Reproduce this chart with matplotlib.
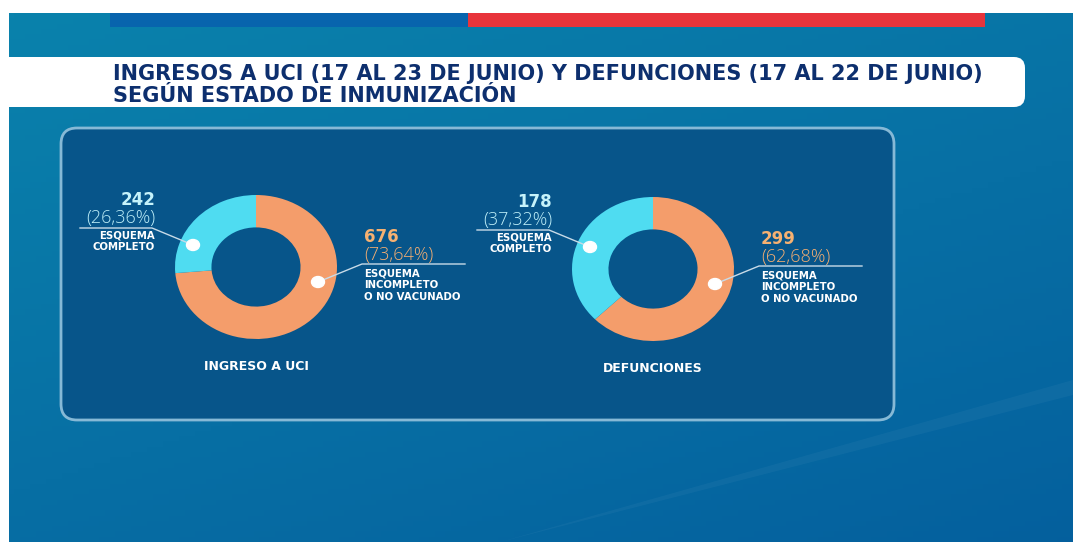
import numpy as np
import matplotlib.pyplot as plt
from matplotlib.patches import FancyBboxPatch, Rectangle, Ellipse

# data
charts = ["INGRESO A UCI", "DEFUNCIONES"]
completo = [242, 178]
incompleto = [676, 299]
label_completo = ["ESQUEMA", "COMPLETO"]
label_incompleto = ["ESQUEMA", "INCOMPLETO", "O NO VACUNADO"]
title_lines = ["INGRESOS A UCI (17 AL 23 DE JUNIO) Y DEFUNCIONES (17 AL 22 DE JUNIO)",
               "SEGÚN ESTADO DE INMUNIZACIÓN"]

W, H = 1073, 542
ORANGE = "#f49d6b"
CYAN = "#4fdcf1"
NAVY = "#0d2f6e"
PANEL = "#07558a"

fig = plt.figure(figsize=(W / 100, H / 100), dpi=100)
ax = fig.add_axes([0, 0, 1, 1])

def Y(y):  # image row -> data y
    return H - y

# background gradient
gx, gy = np.meshgrid(np.linspace(0, 1, 200), np.linspace(0, 1, 100))
t = np.clip(0.55 * gy + 0.35 * gx, 0, 1)
c0 = np.array([0x0a, 0x82, 0xac]) / 255
c1 = np.array([0x04, 0x5c, 0x9c]) / 255
img = c0[None, None, :] * (1 - t[..., None]) + c1[None, None, :] * t[..., None]
ax.imshow(img, extent=[9, W, 0, Y(13)], origin="upper", aspect="auto", zorder=0)

# faint decorative strip at bottom right
ax.fill([500, W, W, 500], [Y(542), Y(380), Y(395), Y(542)], color="white", alpha=0.04, lw=0, zorder=1)

# top flag bar
ax.add_patch(Rectangle((110, Y(27)), 358, 14, color="#0864ad", lw=0, zorder=2))
ax.add_patch(Rectangle((468, Y(27)), 517, 14, color="#e8343b", lw=0, zorder=2))

# title box
ax.add_patch(FancyBboxPatch((-20, Y(107)), 1045, 50, boxstyle="round,pad=0,rounding_size=11",
                            fc="white", ec="none", zorder=2))
for i, line in enumerate(title_lines):
    ax.text(113, Y(74 + i * 22), line, fontsize=15, fontweight="bold",
            color=NAVY, va="center", ha="left", zorder=4)

# panel
ax.add_patch(FancyBboxPatch((61, Y(420)), 833, 292, boxstyle="round,pad=0,rounding_size=16",
                            fc=PANEL, ec="#86b9d6", lw=2, zorder=2))

ax.set_xlim(0, W)
ax.set_ylim(0, H)
ax.axis("off")

centers = [(256, 267), (653, 269)]
RX, RY = 81, 72
thin = ["Open Sans", "DejaVu Sans"]
bold = "DejaVu Sans"
line_c = "#c8dbe8"

for k in range(2):
    cx, cy = centers[k]
    pa = fig.add_axes([(cx - RX) / W, Y(cy + RY) / H, 2 * RX / W, 2 * RY / H])
    wedges, _ = pa.pie([incompleto[k], completo[k]], colors=[ORANGE, CYAN], startangle=90,
                       counterclock=False, radius=1,
                       wedgeprops=dict(width=0.45, linewidth=0))
    pa.set_xlim(-1, 1)
    pa.set_ylim(-1, 1)
    pa.set_aspect("auto")
    pa.axis("off")

    total = incompleto[k] + completo[k]
    pc = 100 * completo[k] / total
    pi = 100 * incompleto[k] / total

    # leader lines and dots (main-axes pixel coords, drawn above the ring)
    d1 = (cx - 63, Y(cy - 22))
    d2 = (cx + 62, Y(cy + 15))
    ly = Y(cy - 39)
    ry = Y(cy - 3)
    pa.plot([cx - 176, cx - 104, d1[0]], [ly, ly, d1[1]], color=line_c, lw=1,
            transform=ax.transData, clip_on=False, zorder=5)
    pa.plot([d2[0], cx + 106, cx + 209], [d2[1], ry, ry], color=line_c, lw=1,
            transform=ax.transData, clip_on=False, zorder=5)
    for d in (d1, d2):
        pa.add_patch(Ellipse(d, 13, 11, color="white", transform=ax.transData,
                             clip_on=False, zorder=6))

    # left labels
    tx = cx - 101
    ax.text(tx, Y(cy - 67), f"{completo[k]}", family=bold, fontsize=12, fontweight="bold",
            color="#c6f3fb", ha="right", va="center", zorder=6)
    ax.text(tx, Y(cy - 49.5), f"({pc:.2f}%)".replace(".", ","), family=thin, fontsize=13,
            fontweight="light", color="#bdeef8", ha="right", va="center", zorder=6)
    for j, s in enumerate(label_completo):
        ax.text(tx, Y(cy - 31 + j * 11.5), s, family=bold, fontsize=7.3, fontweight="bold",
                color="white", ha="right", va="center", zorder=6)

    # right labels
    tx = cx + 108
    ax.text(tx, Y(cy - 29.5), f"{incompleto[k]}", family=bold, fontsize=12, fontweight="bold",
            color="#f6b171", ha="left", va="center", zorder=6)
    ax.text(tx, Y(cy - 12), f"({pi:.2f}%)".replace(".", ","), family=thin, fontsize=13,
            fontweight="light", color="#f3ae72", ha="left", va="center", zorder=6)
    for j, s in enumerate(label_incompleto):
        ax.text(tx, Y(cy + 6.5 + j * 11.8), s, family=bold, fontsize=7.3, fontweight="bold",
                color="white", ha="left", va="center", zorder=6)

    ax.text(cx, Y(cy + 99), charts[k], family=bold, fontsize=9, fontweight="bold",
            color="white", ha="center", va="center", zorder=6)

fig.savefig("out.png", dpi=100, facecolor="white")
